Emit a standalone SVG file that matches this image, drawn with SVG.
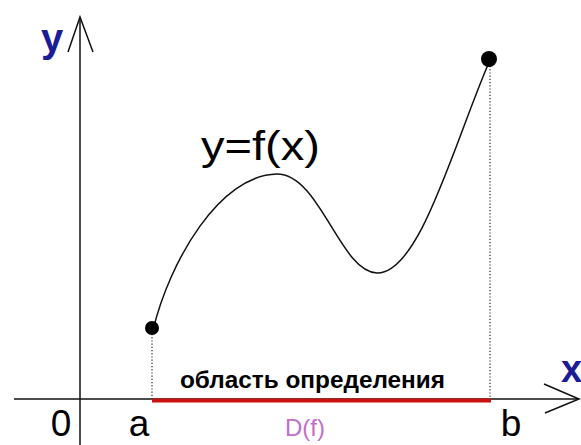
<svg xmlns="http://www.w3.org/2000/svg" width="581" height="445" viewBox="0 0 581 445">
  <style>
    .ax { stroke: #111; stroke-width: 1.5; fill: none; }
    .dot-line { stroke: #222; stroke-width: 1.2; stroke-dasharray: 1.2 2; fill: none; }
    .lbl { font-family: "Liberation Sans", Arial, sans-serif; fill: #000; }
    .blue { font-family: "Liberation Sans", Arial, sans-serif; fill: #1c1c96; }
  </style>
  <rect width="581" height="445" fill="#fff"/>
  <g id="connectors">
    <line id="x-axis" class="ax" x1="14" y1="399" x2="579" y2="399"/>
    <polyline class="ax" points="544,384 579,399 545,413"/>
    <line id="y-axis" class="ax" x1="80" y1="445" x2="80" y2="17"/>
    <polyline class="ax" points="68,52 80,17 93,52"/>
    <line class="dot-line" x1="152" y1="334" x2="152" y2="398"/>
    <line class="dot-line" x1="490" y1="66" x2="490" y2="398"/>
    <line id="domain" x1="152" y1="400.5" x2="491" y2="400.5" stroke="#cc1010" stroke-width="4"/>
    <path id="curve" d="M153,330 C170,260 220,175 277,174 C320,174 340,272 377,273 C420,274 455,140 490,60" fill="none" stroke="#111" stroke-width="1.5"/>
  </g>
  <g id="point-a"><circle cx="152" cy="328" r="7" fill="#000"/></g>
  <g id="point-b"><circle cx="489" cy="59" r="8" fill="#000"/></g>
  <g id="labels">
    <text class="blue" x="41" y="52" font-size="40" font-weight="bold">y</text>
    <text class="blue" x="561" y="382" font-size="38" font-weight="bold">x</text>
    <text class="lbl" x="201" y="160" font-size="40" textLength="119" lengthAdjust="spacingAndGlyphs">y=f(x)</text>
    <text class="lbl" x="180" y="388" font-size="23" font-weight="bold" textLength="265" lengthAdjust="spacingAndGlyphs">область определения</text>
    <text class="lbl" x="61" y="436" font-size="37" text-anchor="middle">0</text>
    <text class="lbl" x="139" y="436" font-size="37" text-anchor="middle">a</text>
    <text class="lbl" x="511" y="436" font-size="37" text-anchor="middle">b</text>
    <text x="285" y="436" font-size="24" fill="#c070c8" font-family="Liberation Sans, Arial, sans-serif">D(f)</text>
  </g>
</svg>
